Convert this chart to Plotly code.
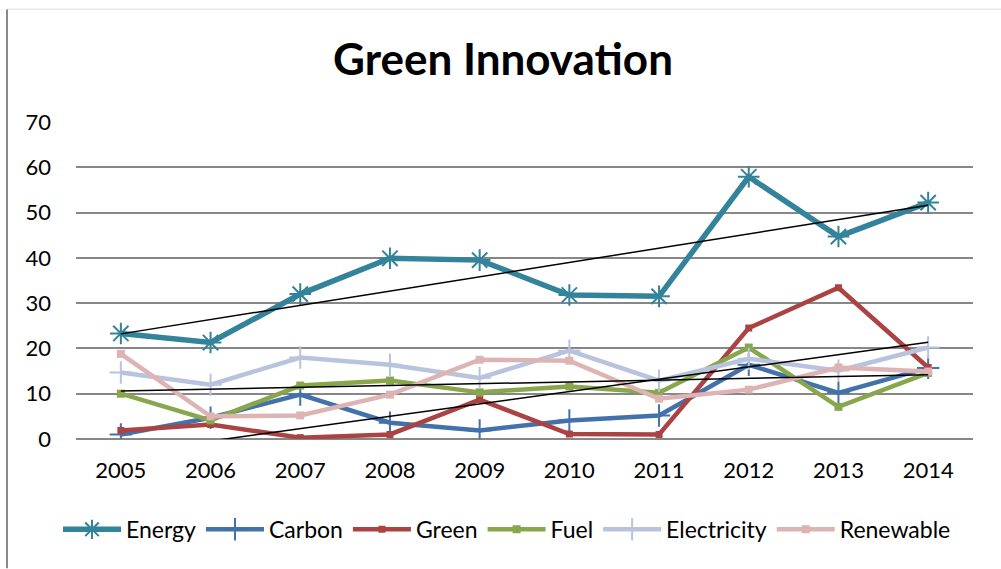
import numpy as np
import plotly.graph_objects as go

years = ["2005", "2006", "2007", "2008", "2009", "2010", "2011", "2012", "2013", "2014"]
energy = [23.3, 21.3, 32.0, 39.9, 39.5, 31.8, 31.5, 57.9, 44.7, 52.2]
carbon = [1.0, 4.7, 9.8, 3.6, 1.9, 4.1, 5.2, 16.4, 10.2, 15.7]
green = [1.9, 3.2, 0.3, 1.0, 8.7, 1.1, 1.0, 24.5, 33.4, 15.8]
fuel = [10.0, 4.1, 11.8, 12.9, 10.3, 11.6, 10.2, 20.2, 7.1, 14.6]
electricity = [14.7, 12.0, 18.0, 16.4, 13.5, 19.5, 12.9, 17.7, 15.1, 20.2]
renewable = [18.8, 5.0, 5.2, 9.8, 17.5, 17.3, 8.9, 10.9, 15.8, 14.9]

y_ticks = [0, 10, 20, 30, 40, 50, 60, 70]

FONT = "Lato"
xi = np.arange(len(years))

series = [
    ("Energy", energy, "#33839A", 5.5, dict(symbol="asterisk-open", size=18, line=dict(width=2, color="#33839A"))),
    ("Carbon", carbon, "#4371AA", 4.5, dict(symbol="cross-thin-open", size=16, line=dict(width=2, color="#4371AA"))),
    ("Green", green, "#AA4341", 4.5, dict(symbol="square", size=7, color="#AA4341")),
    ("Fuel", fuel, "#88A64B", 4.5, dict(symbol="square", size=8, color="#88A64B")),
    ("Electricity", electricity, "#B8C4DE", 4.5, dict(symbol="cross-thin-open", size=16, line=dict(width=2, color="#B8C4DE"))),
    ("Renewable", renewable, "#DDB4B3", 4.5, dict(symbol="square", size=8, color="#DDB4B3")),
]

fig = go.Figure()
for name, vals, color, width, marker in series:
    fig.add_trace(go.Scatter(
        x=xi, y=vals, name=name, mode="lines+markers",
        line=dict(color=color, width=width),
        marker=marker,
    ))

# Linear trend lines for Energy, Green and Renewable
for vals in (energy, green, renewable):
    slope, intercept = np.polyfit(xi, vals, 1)
    fig.add_trace(go.Scatter(
        x=xi, y=slope * xi + intercept, mode="lines",
        line=dict(color="black", width=1.5), showlegend=False, hoverinfo="skip",
    ))

L, R, T, B = 76, 28, 122, 129.5
W, H = 1001 - L - R, 569 - T - B

def px(xp):
    return (xp - L) / W

def py(yp):
    return (569 - B - yp) / H

# Chart-area frame: left edge and top edge
fig.add_shape(type="line", xref="paper", yref="paper",
              x0=px(7), x1=px(7), y0=py(9), y1=py(569), line=dict(color="#8A8A8A", width=2))
fig.add_shape(type="line", xref="paper", yref="paper",
              x0=px(7), x1=px(1001), y0=py(9), y1=py(9), line=dict(color="#DCDCDC", width=1))

fig.update_layout(
    width=1001, height=569,
    margin=dict(l=L, r=R, t=T, b=B),
    paper_bgcolor="white", plot_bgcolor="white",
    font=dict(family=FONT, color="black", size=22),
    title=dict(text="<b>Green Innovation</b>", x=(503) / 1001, xanchor="center",
               y=1 - 60 / 569, yanchor="middle", font=dict(family=FONT, size=44, color="black")),
    xaxis=dict(tickmode="array", tickvals=xi, ticktext=years, range=[-0.5, 9.5],
               showgrid=False, zeroline=False, showline=False, ticks="",
               tickfont=dict(size=22), ticklabelstandoff=16),
    yaxis=dict(range=[0, 70], tickvals=y_ticks, showgrid=True, gridcolor="#878787", gridwidth=2,
               zeroline=True, zerolinecolor="#878787", zerolinewidth=2, showline=False, ticks="",
               tickfont=dict(size=22), ticklabelstandoff=24),
    legend=dict(orientation="h", x=px(58), xanchor="left", y=py(530), yanchor="middle",
                font=dict(size=23), itemwidth=58, tracegroupgap=0, bgcolor="rgba(0,0,0,0)"),
    showlegend=True,
)

fig.write_html("out.html")
